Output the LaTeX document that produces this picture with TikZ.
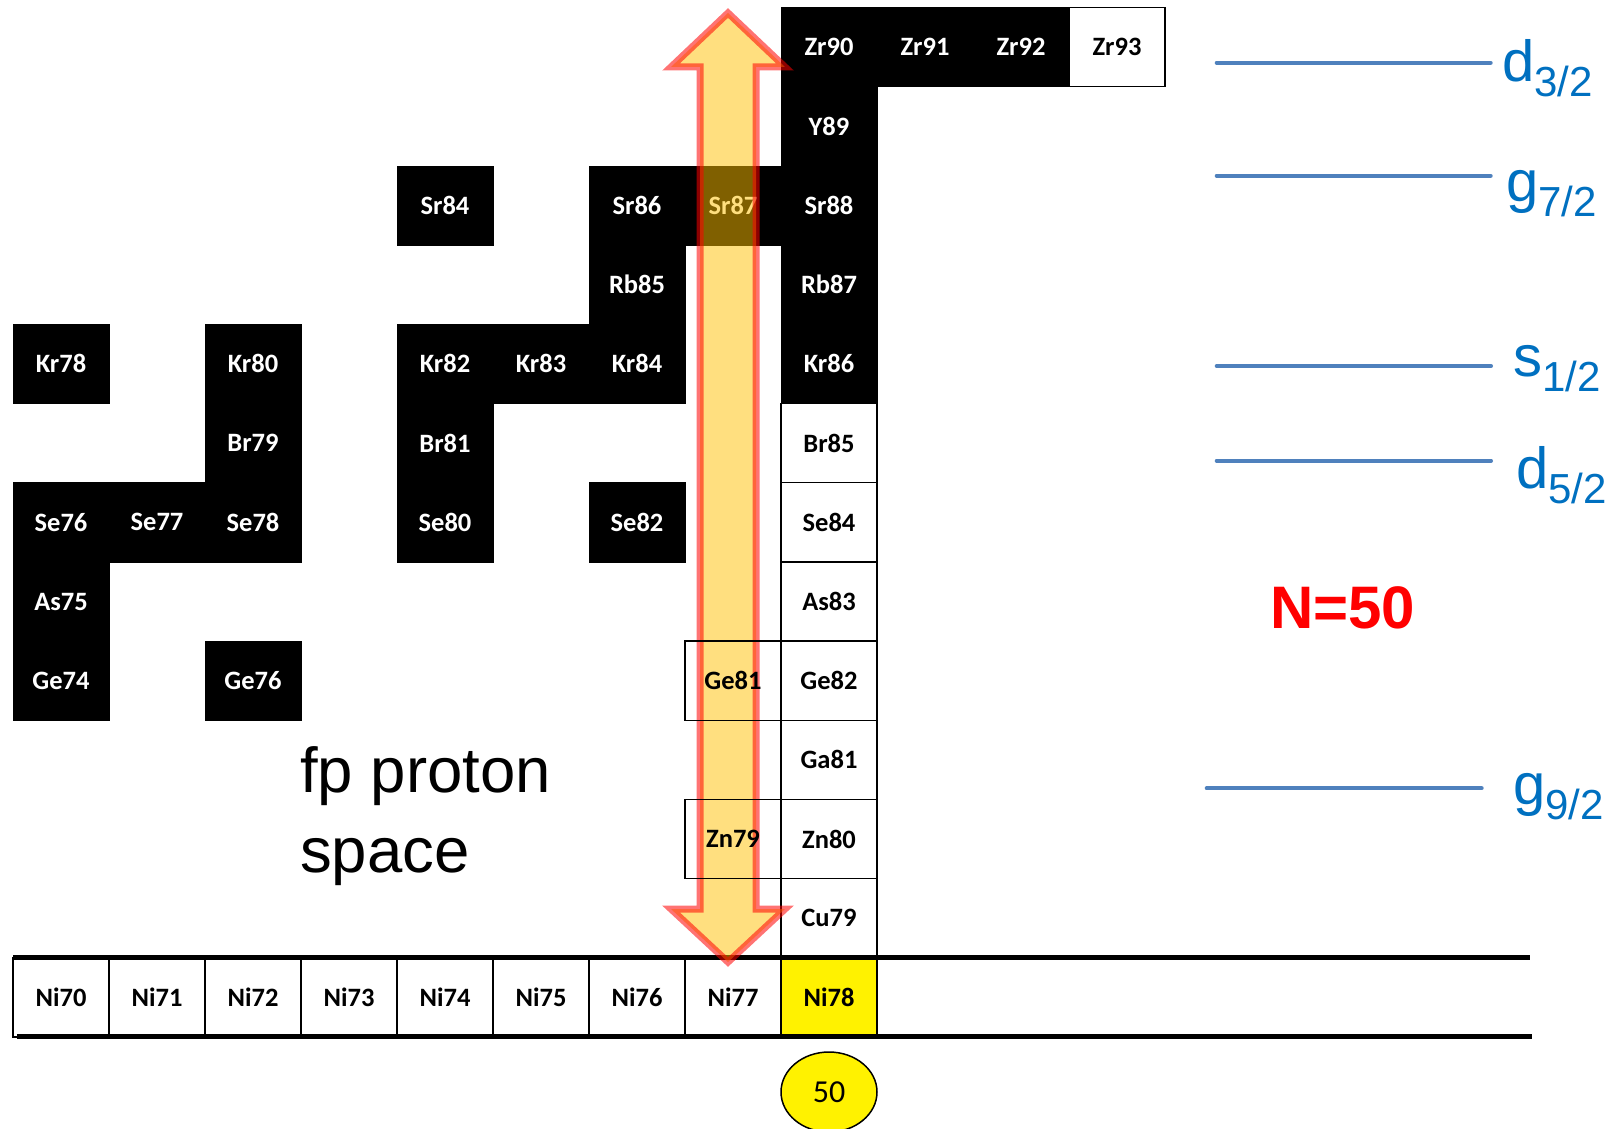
\documentclass[tikz,border=0pt]{standalone}
\usepackage{fontspec}
\setmainfont{Carlito}
\newfontfamily\arialfont{Liberation Sans}
\usetikzlibrary{shapes.geometric}
\definecolor{lvlblue}{RGB}{79,129,189}
\definecolor{lblblue}{RGB}{0,112,192}
\definecolor{arrowfill}{RGB}{255,192,0}
\definecolor{nred}{RGB}{255,0,0}
\newcommand{\isonode}[4]{\node[#1] (#2) at ({61+96*#3},{47.1+79.2*#4}) {#2};}
\newcommand{\lvllabel}[5]{\node[lvltext] (#1) at (#2,#3) {{\fontsize{58}{58}\selectfont #4}{\fontsize{42}{42}\selectfont\raisebox{-15pt}{#5}}};}
\begin{document}
\begin{tikzpicture}[x=1pt,y=-1pt,
  cell/.style={minimum width=96pt, minimum height=79.2pt, inner sep=0pt, outer sep=0pt,
    font=\fontsize{26.5}{27}\selectfont\bfseries},
  stable/.style={cell, fill=black, text=white, draw=black, line width=0.8pt},
  unstable/.style={cell, fill=white, text=black, draw=black, line width=1.5pt},
  frame/.style={cell, text=black, draw=black, line width=1.5pt},
  magic/.style={cell, fill=yellow, text=black, draw=black, line width=1.5pt},
  rowline/.style={line width=5pt, black},
  bigarrow/.style={fill=arrowfill, fill opacity=0.5, draw=nred, draw opacity=0.55, line width=7pt, line join=miter},
  level/.style={line width=4pt, lvlblue, line cap=round},
  lvltext/.style={anchor=base west, inner sep=0pt, text=lblblue, font=\arialfont},
  bigtext/.style={anchor=base west, inner sep=0pt, font=\arialfont\fontsize{63.5}{64}\selectfont}
]
\useasboundingbox[fill=white] (0,0) rectangle (1611,1129);

% Zr row
\isonode{stable}{Zr90}{8}{0}
\isonode{stable}{Zr91}{9}{0}
\isonode{stable}{Zr92}{10}{0}
\isonode{unstable}{Zr93}{11}{0}
% Y
\isonode{stable}{Y89}{8}{1}
% Sr
\isonode{stable}{Sr84}{4}{2}
\isonode{stable}{Sr86}{6}{2}
\isonode{stable}{Sr87}{7}{2}
\isonode{stable}{Sr88}{8}{2}
% Rb
\isonode{stable}{Rb85}{6}{3}
\isonode{stable}{Rb87}{8}{3}
% Kr
\isonode{stable}{Kr78}{0}{4}
\isonode{stable}{Kr80}{2}{4}
\isonode{stable}{Kr82}{4}{4}
\isonode{stable}{Kr83}{5}{4}
\isonode{stable}{Kr84}{6}{4}
\isonode{stable}{Kr86}{8}{4}
% Br
\isonode{stable}{Br79}{2}{5}
\isonode{stable}{Br81}{4}{5}
\isonode{unstable}{Br85}{8}{5}
% Se
\isonode{stable}{Se76}{0}{6}
\isonode{stable}{Se77}{1}{6}
\isonode{stable}{Se78}{2}{6}
\isonode{stable}{Se80}{4}{6}
\isonode{stable}{Se82}{6}{6}
\isonode{unstable}{Se84}{8}{6}
% As
\isonode{stable}{As75}{0}{7}
\isonode{unstable}{As83}{8}{7}
% Ge
\isonode{stable}{Ge74}{0}{8}
\isonode{stable}{Ge76}{2}{8}
\isonode{unstable}{Ge82}{8}{8}
% Ga
\isonode{unstable}{Ga81}{8}{9}
% Zn
\isonode{unstable}{Zn80}{8}{10}
% Cu
\isonode{unstable}{Cu79}{8}{11}
% Ni
\foreach \k in {0,...,7} {
  \pgfmathtruncatemacro{\m}{70+\k}
  \isonode{unstable}{Ni\m}{\k}{12}
}
\isonode{magic}{Ni78}{8}{12}

% thick row lines
\draw[rowline] (13,957.3) -- (1530,957.3);
\draw[rowline] (17,1036.7) -- (1532,1036.7);

% big double arrow
\draw[bigarrow] (728,13) -- (785,67) -- (756,67) -- (756,909) -- (785,909) -- (728,962)
  -- (671,909) -- (700,909) -- (700,67) -- (671,67) -- cycle;

% framed cells on top of the arrow
\isonode{frame}{Ge81}{7}{8}
\isonode{frame}{Zn79}{7}{10}

% magic number ellipse
\node[ellipse, draw=black, line width=1.5pt, fill=yellow, minimum width=96pt, minimum height=80pt,
  inner sep=0pt, font=\fontsize{32}{32}\selectfont] (fifty) at (829,1092) {50};

% single-particle levels
\draw[level] (1216.7,62.7) -- (1490.7,62.7);
\draw[level] (1216.7,175.7) -- (1490.7,175.7);
\draw[level] (1216.7,366) -- (1491,366);
\draw[level] (1216.7,460.7) -- (1491,460.7);
\draw[level] (1206.7,788.3) -- (1481.7,788.3);

\lvllabel{d32}{1502}{82}{d}{3/2}
\lvllabel{g72}{1506}{201}{g}{7/2}
\lvllabel{s12}{1513}{376}{s}{1/2}
\lvllabel{d52}{1516}{488}{d}{5/2}
\lvllabel{g92}{1513}{804}{g}{9/2}

% N=50
\node[anchor=base west, inner sep=0pt, text=nred, font=\arialfont\bfseries\fontsize{60}{60}\selectfont] (n50) at (1270,628) {N=50};

% fp proton space
\node[bigtext] (fp1) at (300,792) {fp proton};
\node[bigtext] (fp2) at (300,872) {space};
\end{tikzpicture}
\end{document}
